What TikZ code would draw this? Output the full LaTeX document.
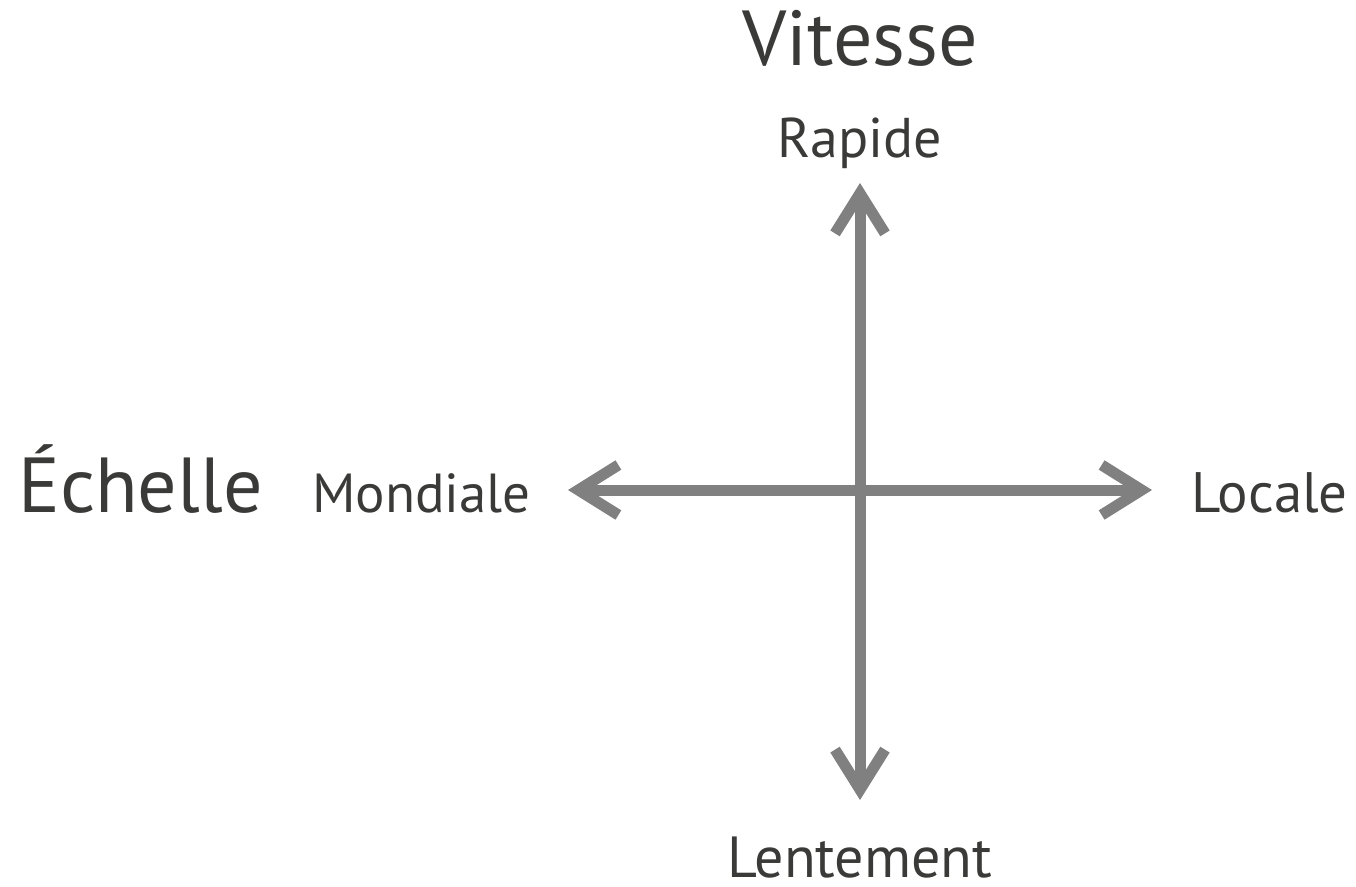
\documentclass[tikz,border=0pt]{standalone}
\usepackage{fontspec}
\setmainfont{PT Sans}
\usetikzlibrary{arrows.meta}
\definecolor{txt}{HTML}{3A3A38}
\definecolor{axis}{HTML}{808080}
\begin{document}
\begin{tikzpicture}[x=1pt,y=-1pt,
  lbl/.style={anchor=base,text=txt,inner sep=0pt},
  big/.style={lbl,font=\fontsize{78}{82}\selectfont},
  small/.style={lbl,font=\fontsize{55}{58}\selectfont},
  axisline/.style={draw=axis,line width=11pt,
    {Straight Barb[length=40pt,width=50pt,line join=miter]}-{Straight Barb[length=40pt,width=50pt,line join=miter]}}]
\useasboundingbox (0,0) rectangle (1356,886);
\coordinate (L) at (568,490);
\coordinate (R) at (1152,490);
\coordinate (T) at (860,183);
\coordinate (B) at (860,800);
\draw[axisline] (L) -- (R);
\draw[axisline] (B) -- (T);
\node[big] (vit) at (860,65) {Vitesse};
\node[small,font=\fontsize{56}{58}\selectfont] (rap) at (860,157) {Rapide};
\node[big,anchor=base west] (ech) at (18,512) {Échelle};
\node[small,anchor=base west] (mon) at (312,512) {Mondiale};
\node[small,anchor=base east,font=\fontsize{57}{60}\selectfont] (loc) at (1348,512) {Locale};
\node[small,font=\fontsize{58}{60}\selectfont] (len) at (860,877) {Lentement};
\end{tikzpicture}
\end{document}
